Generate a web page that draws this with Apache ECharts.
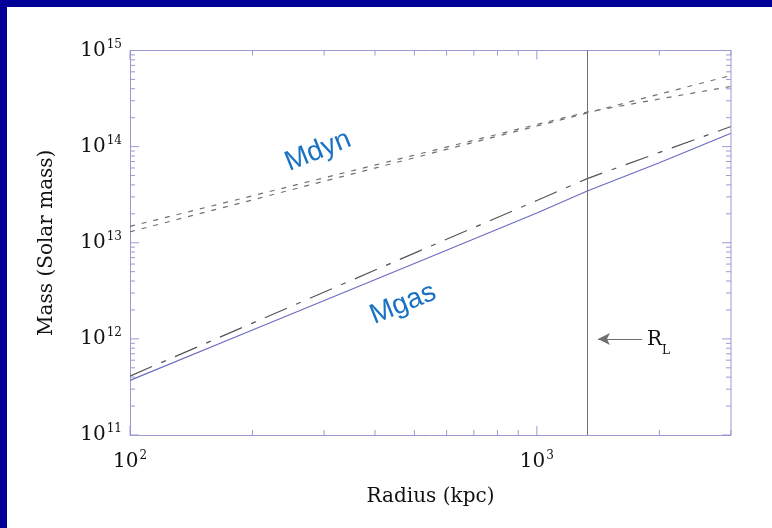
<!DOCTYPE html>
<html>
<head>
<meta charset="utf-8">
<script src="https://cdn.jsdelivr.net/npm/echarts@6/dist/echarts.min.js"></script>
<style>
  html, body { margin: 0; padding: 0; background: #ffffff; }
  #chart { width: 772px; height: 528px; }
</style>
</head>
<body>
<div id="chart"></div>
<script>
// Cluster mass profiles: radius in kpc, masses in solar masses
const radius = [100, 200, 500, 1000, 1330, 2000, 3000];
const mdynA = [1.30e13, 2.79e13, 7.66e13, 1.64e14, 2.24e14, 3.52e14, 5.50e14];
const mdynB = [1.48e13, 3.08e13, 8.15e13, 1.70e14, 2.29e14, 3.13e14, 4.23e14];
const mgasUpper = [4.1e11, 1.46e12, 7.8e12, 2.75e13, 4.65e13, 8.7e13, 1.62e14];
const mgas = [3.7e11, 1.24e12, 6.1e12, 2.04e13, 3.45e13, 6.8e13, 1.38e14];
const rL = 1330;
const arrowFrom = 1815, arrowTo = 1413, arrowMass = 1e12;

// axis extents and tick positions
const xRange = [100, 3000];
const yRange = [1e11, 1e15];
const xMajor = [100, 1000];
const xMinor = [200, 300, 400, 500, 600, 700, 800, 900, 2000, 3000];
const yMajor = [1e11, 1e12, 1e13, 1e14, 1e15];
const yMinor = [];
for (let e = 11; e < 15; e++) for (let m = 2; m <= 9; m++) yMinor.push(m * Math.pow(10, e));

const SERIF = '"DejaVu Serif", "Liberation Serif", serif';
const AXIS_COLOR = '#9a9ad2';

function pairs(ys) { return radius.map((r, i) => [r, ys[i]]); }

function powLabel(v) {
  const e = Math.log10(v);
  if (Math.abs(e - Math.round(e)) > 1e-6) return '';
  return '{b|10}{s|' + Math.round(e) + '}';
}
const richLabel = {
  b: { fontFamily: SERIF, fontSize: 20, color: '#111', lineHeight: 24 },
  s: { fontFamily: SERIF, fontSize: 12, color: '#111', verticalAlign: 'top', lineHeight: 24, padding: [0, 0, 0, 1] }
};

const xTickData = xMajor.map(v => [v, yRange[0], 9]).concat(xMinor.map(v => [v, yRange[0], 5]));
const yTickData = yMajor.map(v => [xRange[0], v, 9]).concat(yMinor.map(v => [xRange[0], v, 5]));

function tickStyle() { return { stroke: AXIS_COLOR, lineWidth: 1 }; }

const chart = echarts.init(document.getElementById('chart'), null, { renderer: 'canvas' });

chart.setOption({
  animation: false,
  backgroundColor: '#ffffff',
  grid: { left: 130, right: 41, top: 50.5, bottom: 93, show: false },
  xAxis: {
    type: 'log', logBase: 10, min: xRange[0], max: xRange[1],
    name: 'Radius (kpc)', nameLocation: 'middle', nameGap: 52,
    nameTextStyle: { fontFamily: SERIF, fontSize: 20, color: '#111' },
    axisLine: { show: true, lineStyle: { color: AXIS_COLOR, width: 1 } },
    axisTick: { show: false }, splitLine: { show: false },
    axisLabel: { formatter: powLabel, rich: richLabel, margin: 15, showMinLabel: true, showMaxLabel: true }
  },
  yAxis: {
    type: 'log', logBase: 10, min: yRange[0], max: yRange[1],
    name: 'Mass (Solar mass)', nameLocation: 'middle', nameGap: 73, nameRotate: 90,
    nameTextStyle: { fontFamily: SERIF, fontSize: 20, color: '#111' },
    axisLine: { show: true, lineStyle: { color: AXIS_COLOR, width: 1 } },
    axisTick: { show: false }, splitLine: { show: false },
    axisLabel: { formatter: powLabel, rich: richLabel, margin: 8 }
  },
  series: [
    {
      type: 'line', data: pairs(mdynA), showSymbol: false, silent: true,
      lineStyle: { color: '#707070', width: 1.2, type: [5, 7] }
    },
    {
      type: 'line', data: pairs(mdynB), showSymbol: false, silent: true,
      lineStyle: { color: '#707070', width: 1.2, type: [5, 7] }
    },
    {
      type: 'line', data: pairs(mgasUpper), showSymbol: false, silent: true,
      lineStyle: { color: '#555555', width: 1.2, type: [24, 10, 5, 10] }
    },
    {
      type: 'line', data: pairs(mgas), showSymbol: false, silent: true,
      lineStyle: { color: '#6a6ac0', width: 1.1 },
      markLine: {
        silent: true, animation: false, symbol: ['none', 'none'],
        label: { show: false },
        lineStyle: { color: '#6f6f6f', width: 1, type: 'solid' },
        data: [
          { xAxis: rL },
          [
            { coord: [arrowFrom, arrowMass], symbol: 'none' },
            { coord: [arrowTo, arrowMass], symbol: 'arrow', symbolSize: [9, 12] }
          ]
        ]
      }
    },
    {
      // ticks along bottom and top frame
      type: 'custom', coordinateSystem: 'cartesian2d', silent: true, clip: false,
      data: xTickData, encode: { x: 0, y: 1 },
      renderItem: function (params, api) {
        const x = api.value(0), len = api.value(2);
        const b = api.coord([x, yRange[0]]);
        const t = api.coord([x, yRange[1]]);
        return { type: 'group', children: [
          { type: 'line', shape: { x1: b[0], y1: b[1], x2: b[0], y2: b[1] - len }, style: tickStyle() },
          { type: 'line', shape: { x1: t[0], y1: t[1], x2: t[0], y2: t[1] + len }, style: tickStyle() }
        ] };
      }
    },
    {
      // ticks along left and right frame
      type: 'custom', coordinateSystem: 'cartesian2d', silent: true, clip: false,
      data: yTickData, encode: { x: 0, y: 1 },
      renderItem: function (params, api) {
        const y = api.value(1), len = api.value(2);
        const l = api.coord([xRange[0], y]);
        const r = api.coord([xRange[1], y]);
        return { type: 'group', children: [
          { type: 'line', shape: { x1: l[0], y1: l[1], x2: l[0] + len, y2: l[1] }, style: tickStyle() },
          { type: 'line', shape: { x1: r[0], y1: r[1], x2: r[0] - len, y2: r[1] }, style: tickStyle() }
        ] };
      }
    }
  ],
  graphic: [
    // frame top and right edges
    { type: 'line', shape: { x1: 130, y1: 50.5, x2: 731, y2: 50.5 }, style: { stroke: AXIS_COLOR, lineWidth: 1 }, z: 5 },
    { type: 'line', shape: { x1: 731, y1: 50.5, x2: 731, y2: 435 }, style: { stroke: AXIS_COLOR, lineWidth: 1 }, z: 5 },
    // page border
    { type: 'rect', shape: { x: 0, y: 0, width: 772, height: 7 }, style: { fill: '#000099' }, z: 10 },
    { type: 'rect', shape: { x: 0, y: 0, width: 7, height: 528 }, style: { fill: '#000099' }, z: 10 },
    // curve names
    { type: 'text', x: 318, y: 151, rotation: 22 * Math.PI / 180,
      style: { text: 'Mdyn', fill: '#1a72c4', font: '28px "Liberation Sans", Arial, sans-serif', align: 'center', verticalAlign: 'middle' }, z: 8 },
    { type: 'text', x: 403, y: 304, rotation: 22 * Math.PI / 180,
      style: { text: 'Mgas', fill: '#1a72c4', font: '28px "Liberation Sans", Arial, sans-serif', align: 'center', verticalAlign: 'middle' }, z: 8 },
    // radius marker label
    { type: 'text', x: 647, y: 340,
      style: { text: 'R', fill: '#111', font: '20px ' + SERIF, align: 'left', verticalAlign: 'middle' }, z: 8 },
    { type: 'text', x: 662, y: 351,
      style: { text: 'L', fill: '#111', font: '12px ' + SERIF, align: 'left', verticalAlign: 'middle' }, z: 8 }
  ]
});
</script>
</body>
</html>
